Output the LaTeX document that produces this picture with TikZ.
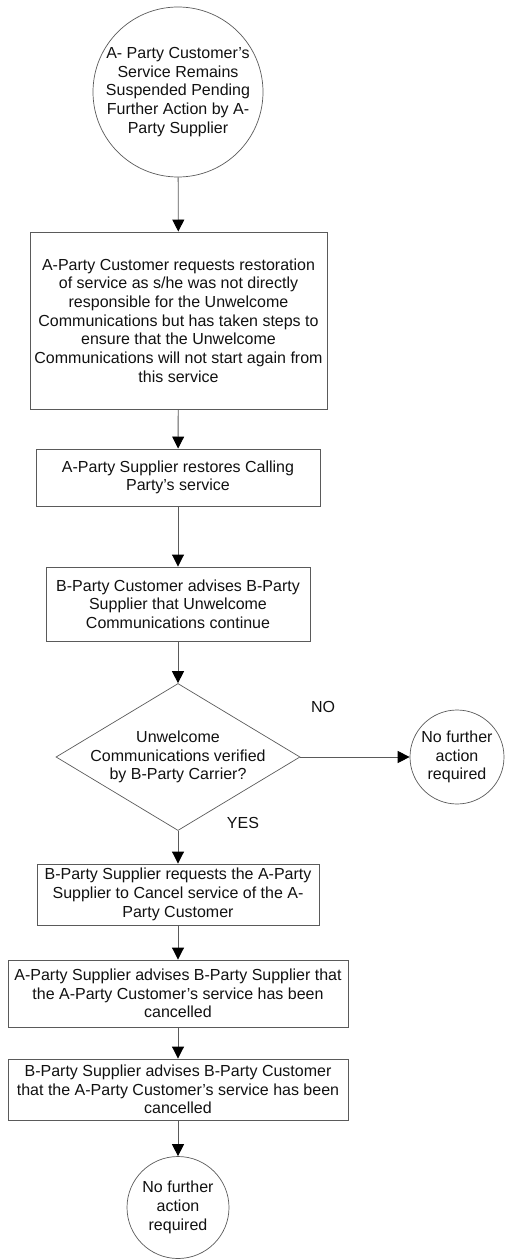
\documentclass[tikz,border=0pt]{standalone}
\usepackage{fontspec}
\setmainfont{Liberation Sans}
\usepackage{tikz}
\usetikzlibrary{arrows.meta,shapes.geometric}
\definecolor{edge}{HTML}{5A5A5A}
\definecolor{ink}{HTML}{111111}
\tikzset{
  every node/.style={font=\fontsize{16}{18.7}\selectfont, text=ink},
  procbox/.style={rectangle, draw=edge, line width=0.9pt, align=center, inner sep=1pt},
  termcirc/.style={circle, draw=edge, line width=0.7pt, align=center, inner sep=0pt},
  decision/.style={diamond, draw=edge, line width=0.7pt, inner sep=0pt},
  flowline/.style={-{Triangle[length=12pt,width=12pt,color=black]}, draw=edge, line width=0.9pt},
  answer/.style={inner sep=0pt}
}

\begin{document}
\begin{tikzpicture}[x=1pt,y=-1pt]
  \useasboundingbox (0,0) rectangle (504,1260);
  % main column
  \node[termcirc, minimum size=170pt] (start) at (178,92)
    {A- Party Customer’s\\Service Remains\\Suspended Pending\\Further Action by A-\\Party Supplier};
  \node[procbox, minimum width=297pt, minimum height=177pt] (restreq) at (178.5,320.5)
    {A-Party Customer requests restoration\\of service as s/he was not directly\\responsible for the Unwelcome\\Communications but has taken steps to\\ensure that the Unwelcome\\Communications will not start again from\\this service};
  \node[procbox, minimum width=284pt, minimum height=57pt] (restore) at (178,477.5)
    {A-Party Supplier restores Calling\\Party’s service};
  \node[procbox, minimum width=264pt, minimum height=74pt] (advise) at (178,604)
    {B-Party Customer advises B-Party\\Supplier that Unwelcome\\Communications continue};
  \node[decision, minimum width=244pt, minimum height=147pt] (verify) at (178,757) {};
  \node[align=center, inner sep=0pt] (verifytxt) at (verify.center)
    {Unwelcome\\Communications verified\\by B-Party Carrier?};
  \node[termcirc, minimum size=94pt] (endno) at (457,757)
    {No further\\action\\required};
  \node[procbox, minimum width=282pt, minimum height=61pt] (cancelreq) at (178,894.5)
    {B-Party Supplier requests the A-Party\\Supplier to Cancel service of the A-\\Party Customer};
  \node[procbox, minimum width=340pt, minimum height=67pt] (cancelled) at (178,993.5)
    {A-Party Supplier advises B-Party Supplier that\\the A-Party Customer’s service has been\\cancelled};
  \node[procbox, minimum width=340pt, minimum height=61pt] (informed) at (178,1089.5)
    {B-Party Supplier advises B-Party Customer\\that the A-Party Customer’s service has been\\cancelled};
  \node[termcirc, minimum size=102pt] (endyes) at (178,1207.5)
    {No further\\action\\required};
  \node[answer] (no) at (323,707) {NO};
  \node[answer] (yes) at (243,823) {YES};

  \draw[flowline] (start) -- (restreq);
  \draw[flowline] (restreq) -- (restore);
  \draw[flowline] (restore) -- (advise);
  \draw[flowline] (advise) -- (verify.north);
  \draw[flowline] (verify.east) -- (endno.west);
  \draw[flowline] (verify.south) -- (cancelreq);
  \draw[flowline] (cancelreq) -- (cancelled);
  \draw[flowline] (cancelled) -- (informed);
  \draw[flowline] (informed) -- (endyes);
\end{tikzpicture}
\end{document}
